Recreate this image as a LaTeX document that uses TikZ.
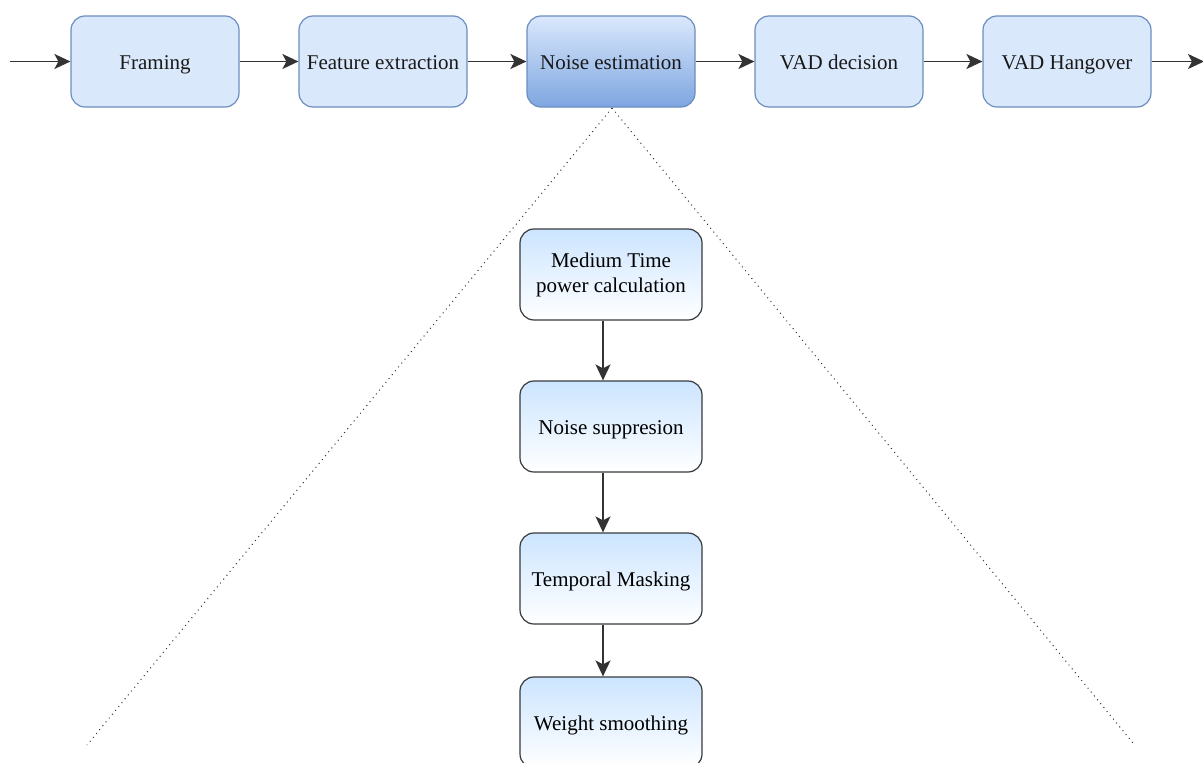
\documentclass[tikz,border=0pt]{standalone}
\usepackage{fontspec}
\setmainfont{Liberation Serif}
\usetikzlibrary{arrows.meta}
\definecolor{stagefill}{HTML}{DAE8FC}
\definecolor{stageline}{HTML}{6C8EBF}
\definecolor{stagedeep}{HTML}{7EA6E0}
\definecolor{subtop}{HTML}{CCE5FF}
\definecolor{subline}{HTML}{36393D}
\definecolor{wire}{HTML}{333333}
\begin{document}
\begin{tikzpicture}[x=1pt,y=-1pt,
  oneline/.style={text height=17pt, text depth=2pt},
  stage/.style={draw=stageline, fill=stagefill, line width=1.2pt, rounded corners=14pt,
    minimum width=168pt, minimum height=91pt, inner sep=0pt, oneline,
    font=\fontsize{21}{25}\selectfont, text=black!90},
  focus/.style={stage, top color=stagefill, bottom color=stagedeep},
  substage/.style={draw=subline, line width=1.2pt, rounded corners=14pt,
    top color=subtop, bottom color=white,
    minimum width=182pt, minimum height=91pt, inner sep=0pt, align=center,
    font=\fontsize{21}{25}\selectfont, text=black},
  flow/.style={draw=wire, line width=1.6pt, -{Stealth[length=16pt,width=15pt,inset=4pt]}},
  zoomline/.style={draw=black!80, line width=1pt, dash pattern=on 1pt off 4pt}
]
\useasboundingbox (0,0) rectangle (1203,763);

% main processing chain
\node[stage] (fr) at (155,61.5) {Framing};
\node[stage] (fe) at (383,61.5) {Feature extraction};
\node[focus] (ne) at (611,61.5) {Noise estimation};
\node[stage] (vd) at (839,61.5) {VAD decision};
\node[stage] (vh) at (1067,61.5) {VAD Hangover};

\coordinate (src) at (10,61.5);
\coordinate (dst) at (1204,61.5);
\coordinate (zl) at (87,745);
\coordinate (zr) at (1133,743);
\coordinate (zt) at (612,108);

% expansion lines from the noise estimation block
\draw[zoomline] (zt) -- (zl);
\draw[zoomline] (zt) -- (zr);

% detail of the noise estimation block
\node[substage] (mt) at (611,274.5) {Medium Time\\power calculation};
\node[substage, oneline] (ns) at (611,426.5) {Noise suppresion};
\node[substage, oneline] (tm) at (611,578.5) {Temporal Masking};
\node[substage, oneline] (ws) at (611,722.5) {Weight smoothing};

\draw[flow] (src) -- (fr.west);
\draw[flow] (fr.east) -- (fe.west);
\draw[flow] (fe.east) -- (ne.west);
\draw[flow] (ne.east) -- (vd.west);
\draw[flow] (vd.east) -- (vh.west);
\draw[flow] (vh.east) -- (dst);

\draw[flow] ([xshift=-8pt]mt.south) -- ([xshift=-8pt]ns.north);
\draw[flow] ([xshift=-8pt]ns.south) -- ([xshift=-8pt]tm.north);
\draw[flow] ([xshift=-8pt]tm.south) -- ([xshift=-8pt]ws.north);
\end{tikzpicture}
\end{document}
